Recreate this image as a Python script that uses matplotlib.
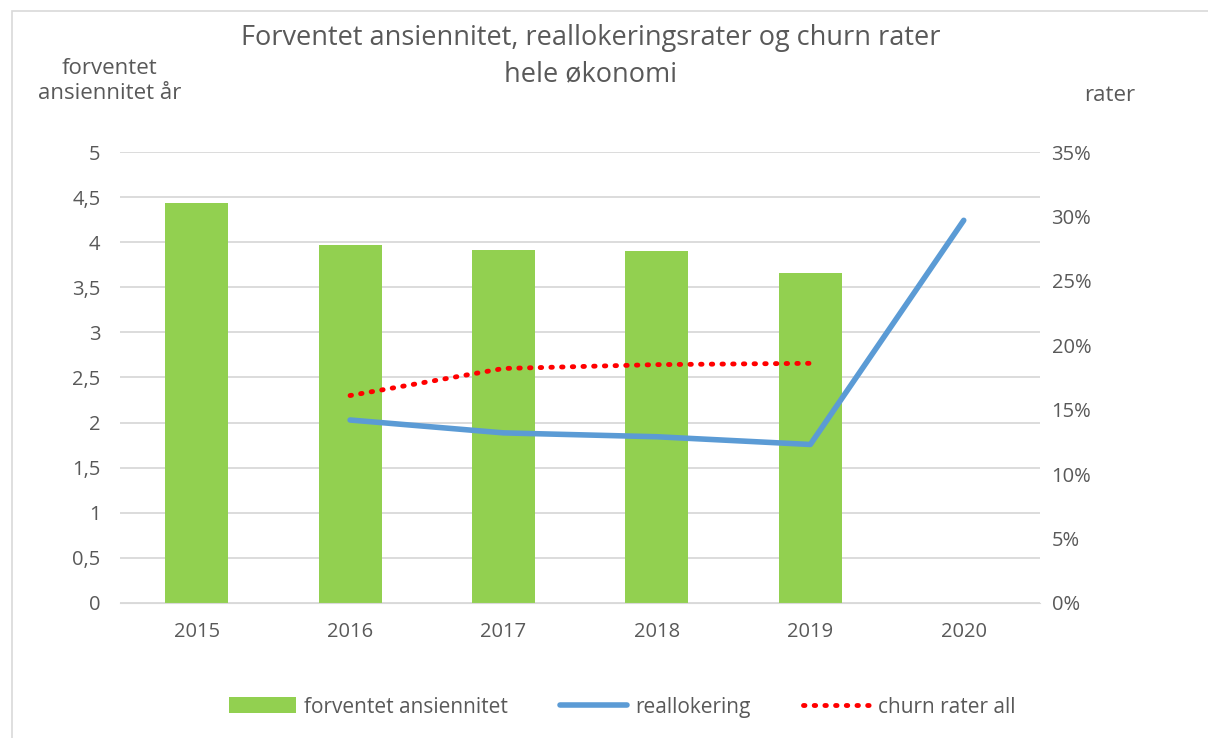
import numpy as np
import matplotlib.pyplot as plt
from matplotlib.ticker import FuncFormatter

plt.rcParams['font.family'] = ['Open Sans', 'DejaVu Sans']

years = ['2015', '2016', '2017', '2018', '2019', '2020']
ansiennitet = [4.43, 3.97, 3.91, 3.90, 3.66, np.nan]
reallokering = [np.nan, 0.142, 0.132, 0.129, 0.123, 0.297]
churn = [np.nan, 0.161, 0.182, 0.185, 0.186, np.nan]

grey = '#595959'
x = np.arange(len(years))

fig = plt.figure(figsize=(12.08, 7.38), dpi=100)
ax = fig.add_axes([0.0993, 0.183, 0.762, 0.611])
ax2 = ax.twinx()

ax.bar(x, ansiennitet, width=0.41, color='#92d050', zorder=2, label='forventet ansiennitet')
ax2.plot(x, reallokering, color='#5b9bd5', lw=4, solid_capstyle='round', zorder=3, label='reallokering')
ax2.plot(x, churn, color='#ff0000', lw=3.5, ls=(0, (0.3, 1.9)), dash_capstyle='round', zorder=4, label='churn rater all')

ax.set_xlim(-0.5, 5.5)
ax.set_ylim(0, 5)
ax2.set_ylim(0, 0.35)
ax.set_yticks(np.arange(0, 5.01, 0.5))
ax.yaxis.set_major_formatter(FuncFormatter(lambda v, p: ('%g' % v).replace('.', ',')))
ax2.set_yticks(np.arange(0, 0.351, 0.05))
ax2.yaxis.set_major_formatter(FuncFormatter(lambda v, p: '%d%%' % round(v * 100)))
ax.set_xticks(x)
ax.set_xticklabels(years)

ax.grid(axis='y', color='#d9d9d9', lw=1.3, zorder=0)
ax.set_axisbelow(True)
for a in (ax, ax2):
    for s in a.spines.values():
        s.set_visible(False)
    a.tick_params(length=0, labelsize=14.5, colors=grey)
ax.spines['bottom'].set_visible(True)
ax.spines['bottom'].set_color('#d9d9d9')
ax.tick_params(axis='y', pad=14)
ax.tick_params(axis='x', pad=14)
ax2.tick_params(axis='y', pad=8)

# tittel, to linjer
fig.text(0.489, 0.924, 'Forventet ansiennitet, reallokeringsrater og churn rater\nhele økonomi',
         ha='center', va='center', fontsize=19.5, color=grey, linespacing=1.4)
fig.text(0.091, 0.89, 'forventet\nansiennitet år', ha='center', va='center', fontsize=16,
         color=grey, linespacing=1.25)
fig.text(0.919, 0.87, 'rater', ha='center', va='center', fontsize=16, color=grey)

h1, l1 = ax.get_legend_handles_labels()
h2, l2 = ax2.get_legend_handles_labels()
fig.legend(h1 + h2, l1 + l2, loc='center', bbox_to_anchor=(0.515, 0.042), ncol=3,
           frameon=False, fontsize=15, labelcolor=grey, handlelength=3.2,
           handleheight=0.8, handletextpad=0.4, columnspacing=2.5)

fig.add_artist(plt.Rectangle((0.01, -0.01), 1.2, 0.995, transform=fig.transFigure,
                             fill=False, edgecolor='#d9d9d9', lw=1.2))

fig.savefig('out.png', dpi=100, facecolor='white')
